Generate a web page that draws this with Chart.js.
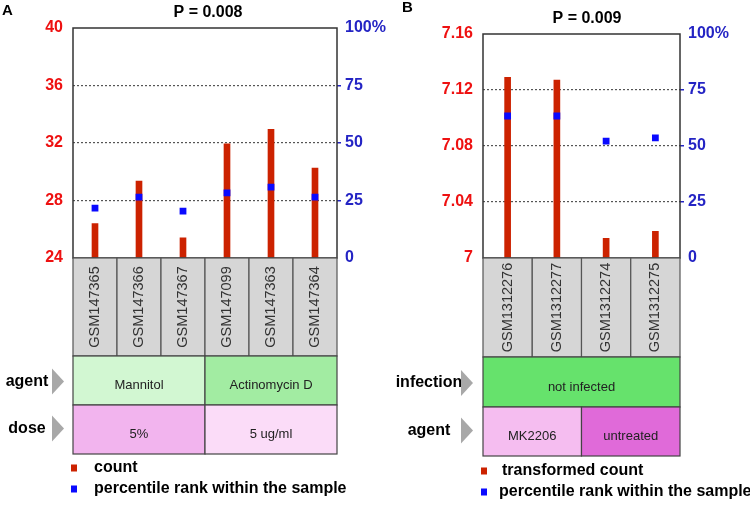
<!DOCTYPE html>
<html>
<head>
<meta charset="utf-8">
<script src="https://cdn.jsdelivr.net/npm/chart.js@4.4.1/dist/chart.umd.min.js"></script>
<style>
  html, body { margin: 0; padding: 0; background: #fff; }
  #wrap { position: relative; width: 750px; height: 506px; overflow: hidden; background: #fff; }
  canvas { position: absolute; top: 0; }
</style>
</head>
<body>
<div id="wrap">
  <canvas id="cA" width="400" height="506" style="left:0px"></canvas>
  <canvas id="cB" width="375" height="506" style="left:375px"></canvas>
</div>
<script>
// ---------- Data: panel A ----------
const samplesA = ['GSM147365', 'GSM147366', 'GSM147367', 'GSM147099', 'GSM147363', 'GSM147364'];
const countA = [26.4, 29.35, 25.4, 31.95, 32.95, 30.25];
const pctA = [21.7, 26.5, 20.4, 28.3, 30.8, 26.5];
const yTicksA = [24, 28, 32, 36, 40];
const row1NameA = 'agent';
const row1LabelsA = ['Mannitol', 'Actinomycin D'];
const row1SpansA = [3, 3];
const row2NameA = 'dose';
const row2LabelsA = ['5%', '5 ug/ml'];
const row2SpansA = [3, 3];
const titleA = 'P = 0.008';
const legendA = ['count', 'percentile rank within the sample'];

// ---------- Data: panel B ----------
const samplesB = ['GSM1312276', 'GSM1312277', 'GSM1312274', 'GSM1312275'];
const countB = [7.129, 7.127, 7.014, 7.019];
const pctB = [63.4, 63.4, 52.2, 53.6];
const yTicksB = [7, 7.04, 7.08, 7.12, 7.16];
const row1NameB = 'infection';
const row1LabelsB = ['not infected'];
const row1SpansB = [4];
const row2NameB = 'agent';
const row2LabelsB = ['MK2206', 'untreated'];
const row2SpansB = [2, 2];
const titleB = 'P = 0.009';
const legendB = ['transformed count', 'percentile rank within the sample'];

// shared right-axis ticks
const pctTicks = [0, 25, 50, 75, 100];

// ---------- Styles ----------
const FONT = '"Liberation Sans", Arial, sans-serif';
const RED_BAR = '#cc2200';
const BLUE_PT = '#0a0aff';
const RED_TXT = '#ee1111';
const BLUE_TXT = '#2424c4';

function buildChart(canvasId, o) {
  const decor = {
    id: 'decor',
    afterDraw(chart) {
      const ctx = chart.ctx;
      const a = chart.chartArea;
      const xs = chart.scales.x;
      const n = o.samples.length;
      const step = (a.right - a.left) / n;
      const R = o.rows;
      ctx.save();
      // panel letter + title
      ctx.fillStyle = '#000';
      ctx.font = 'bold 15px ' + FONT;
      ctx.textBaseline = 'middle';
      ctx.textAlign = 'left';
      ctx.fillText(o.letter, o.letterPos[0], o.letterPos[1]);
      ctx.textAlign = 'center';
      ctx.font = 'bold 16px ' + FONT;
      ctx.fillText(o.title, o.titlePos[0], o.titlePos[1]);

      // plot frame
      ctx.strokeStyle = '#333';
      ctx.lineWidth = 1.5;
      ctx.strokeRect(a.left, a.top, a.right - a.left, a.bottom - a.top);

      // sample cells
      ctx.lineWidth = 1.2;
      ctx.strokeStyle = '#555';
      o.samples.forEach((s, i) => {
        const cx = xs.getPixelForValue(i);
        const l = cx - step / 2;
        ctx.fillStyle = '#d6d6d6';
        ctx.fillRect(l, R[0], step, R[1] - R[0]);
        ctx.strokeRect(l, R[0], step, R[1] - R[0]);
        ctx.save();
        ctx.translate(cx, (R[0] + R[1]) / 2);
        ctx.rotate(-Math.PI / 2);
        ctx.fillStyle = '#333';
        ctx.font = '14.5px ' + FONT;
        ctx.textAlign = 'center';
        ctx.textBaseline = 'middle';
        ctx.fillText(s, 0, 0);
        ctx.restore();
      });

      // annotation rows
      const drawRow = (labels, spans, colors, top, bottom) => {
        let idx = 0;
        labels.forEach((lab, k) => {
          const l = xs.getPixelForValue(idx) - step / 2;
          const w = spans[k] * step;
          ctx.fillStyle = colors[k];
          ctx.fillRect(l, top, w, bottom - top);
          ctx.strokeStyle = '#444';
          ctx.lineWidth = 1.2;
          ctx.strokeRect(l, top, w, bottom - top);
          ctx.fillStyle = '#222';
          ctx.font = '13px ' + FONT;
          ctx.textAlign = 'center';
          ctx.textBaseline = 'middle';
          ctx.fillText(lab, l + w / 2, (top + bottom) / 2 + 5);
          idx += spans[k];
        });
      };
      drawRow(o.row1Labels, o.row1Spans, o.row1Colors, R[1], R[2]);
      drawRow(o.row2Labels, o.row2Spans, o.row2Colors, R[2], R[3]);

      // row names and arrows
      const names = [[o.row1Name, (R[1] + R[2]) / 2 + 1], [o.row2Name, (R[2] + R[3]) / 2 - 1]];
      names.forEach(([nm, cy]) => {
        ctx.fillStyle = '#000';
        ctx.font = 'bold 16px ' + FONT;
        ctx.textAlign = 'center';
        ctx.textBaseline = 'middle';
        ctx.fillText(nm, o.nameX, cy);
        ctx.fillStyle = '#a8a8a8';
        ctx.beginPath();
        ctx.moveTo(o.arrowX, cy - 13);
        ctx.lineTo(o.arrowX + 12, cy);
        ctx.lineTo(o.arrowX, cy + 13);
        ctx.closePath();
        ctx.fill();
      });

      // legend
      const lg = o.legend;
      lg.items.forEach((txt, k) => {
        const y = lg.y[k];
        ctx.fillStyle = k === 0 ? RED_BAR : BLUE_PT;
        ctx.fillRect(lg.sqX, y - 3.5, 6, 7);
        ctx.fillStyle = '#000';
        ctx.font = 'bold 16px ' + FONT;
        ctx.textAlign = 'left';
        ctx.textBaseline = 'middle';
        ctx.fillText(txt, lg.textX[k], y);
      });
      ctx.restore();
    }
  };

  return new Chart(document.getElementById(canvasId), {
    type: 'bar',
    data: {
      labels: o.samples,
      datasets: [
        {
          type: 'line',
          data: o.pct,
          yAxisID: 'y2',
          showLine: false,
          pointStyle: 'rect',
          pointRadius: 4.8,
          pointBackgroundColor: BLUE_PT,
          pointBorderWidth: 0,
          order: 0
        },
        {
          type: 'bar',
          data: o.count,
          yAxisID: 'y',
          backgroundColor: RED_BAR,
          barThickness: 6,
          order: 1
        }
      ]
    },
    options: {
      responsive: false,
      animation: false,
      layout: { padding: { top: o.top, bottom: 506 - 258, left: 0, right: 0 } },
      plugins: { legend: { display: false }, tooltip: { enabled: false }, title: { display: false } },
      scales: {
        x: { display: false, offset: true, grid: { display: false } },
        y: {
          position: 'left',
          min: o.yTicks[0],
          max: o.yTicks[o.yTicks.length - 1],
          afterBuildTicks: s => { s.ticks = o.yTicks.map(v => ({ value: v })); },
          afterFit: s => { s.width = o.leftW; },
          border: { display: false, dash: [2, 2] },
          grid: {
            drawTicks: false,
            lineWidth: 1.2,
            color: c => (c.tick && (c.tick.value === o.yTicks[0] || c.tick.value === o.yTicks[o.yTicks.length - 1])) ? 'rgba(0,0,0,0)' : '#555'
          },
          ticks: {
            color: RED_TXT,
            padding: 10,
            font: { family: FONT, size: 16, weight: 'bold' },
            callback: v => String(parseFloat(Number(v).toFixed(2)))
          }
        },
        y2: {
          position: 'right',
          min: 0,
          max: 100,
          afterBuildTicks: s => { s.ticks = pctTicks.map(v => ({ value: v })); },
          afterFit: s => { s.width = o.rightW; },
          border: { display: false },
          grid: { drawOnChartArea: false, drawTicks: true, tickLength: 4, tickColor: c => (c.tick && (c.tick.value === 0 || c.tick.value === 100)) ? 'rgba(0,0,0,0)' : '#2424c4', lineWidth: 1.5 },
          ticks: {
            color: BLUE_TXT,
            padding: 4,
            font: { family: FONT, size: 16, weight: 'bold' },
            callback: v => (v === 100 ? '100%' : String(v))
          }
        }
      }
    },
    plugins: [decor]
  });
}

buildChart('cA', {
  samples: samplesA, count: countA, pct: pctA, yTicks: yTicksA,
  top: 28, leftW: 73, rightW: 400 - 337,
  rows: [258, 356, 405, 454],
  row1Name: row1NameA, row1Labels: row1LabelsA, row1Spans: row1SpansA, row1Colors: ['#d2f7d2', '#a2eca2'],
  row2Name: row2NameA, row2Labels: row2LabelsA, row2Spans: row2SpansA, row2Colors: ['#f2b4ee', '#fbdcf8'],
  nameX: 27, arrowX: 52,
  letter: 'A', letterPos: [2, 11], title: titleA, titlePos: [208, 13],
  legend: { items: legendA, sqX: 71, y: [468, 489], textX: [94, 94] }
});

buildChart('cB', {
  samples: samplesB, count: countB, pct: pctB, yTicks: yTicksB,
  top: 34, leftW: 108, rightW: 375 - 305,
  rows: [258, 357, 407, 456],
  row1Name: row1NameB, row1Labels: row1LabelsB, row1Spans: row1SpansB, row1Colors: ['#66e26c'],
  row2Name: row2NameB, row2Labels: row2LabelsB, row2Spans: row2SpansB, row2Colors: ['#f5bdf0', '#e06ad9'],
  nameX: 54, arrowX: 86,
  letter: 'B', letterPos: [27, 8], title: titleB, titlePos: [212, 19],
  legend: { items: legendB, sqX: 106, y: [471, 492], textX: [127, 124] }
});
</script>
</body>
</html>
